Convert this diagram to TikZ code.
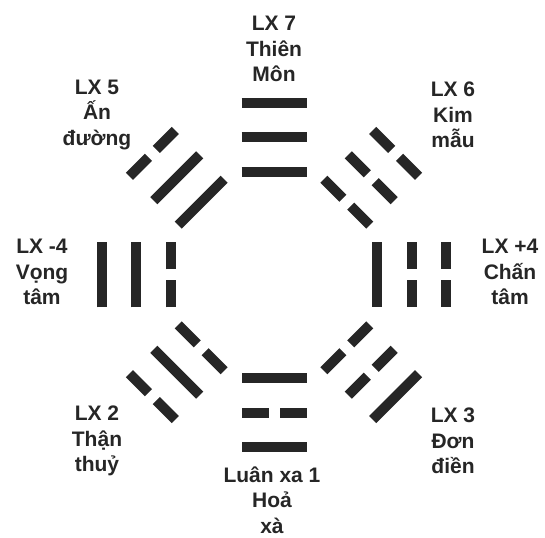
\documentclass[tikz,border=0pt]{standalone}
\usepackage{fontspec}
\setmainfont{Liberation Sans}
\usetikzlibrary{positioning}

\tikzset{
  bar/.style={line width=10pt, draw=black!85},
  lbl/.style={align=center, inner sep=0pt, text=black!85,
    font=\bfseries\fontsize{21}{25.5}\selectfont}
}

\begin{document}
\begin{tikzpicture}[x=1pt,y=1pt]
\useasboundingbox (-274,-262) rectangle (271,275);
\coordinate (o) at (0,0);
% trigrams: direction / inner / middle / outer line (1 solid, 0 broken)
\foreach \ang/\a/\b/\c in {90/1/1/1, 45/0/0/0, 0/1/0/0, -45/0/0/1, -90/1/0/1, -135/0/1/0, 180/0/1/1, 135/1/1/0}{
  \begin{scope}[shift={(o)}, rotate=\ang-90]
    \foreach \r/\s in {103/\a, 137.5/\b, 172/\c}{
      \ifnum\s=1
        \draw[bar] (-32.5,\r) -- (32.5,\r);
      \else
        \draw[bar] (-32.5,\r) -- (-5.5,\r);
        \draw[bar] (5.5,\r) -- (32.5,\r);
      \fi
    }
  \end{scope}
}
\node[lbl] (lx7) at (0,226) {LX 7\\Thiên\\Môn};
\node[lbl] (lx5) at (-177,160) {LX 5\\Ấn\\đường};
\node[lbl] (lx6) at (179,160) {LX 6\\Kim\\mẫu};
\node[lbl] (lxm4) at (-232,3) {LX -4\\Vọng\\tâm};
\node[lbl] (lxp4) at (236,3) {LX +4\\Chấn\\tâm};
\node[lbl] (lx2) at (-177,-166) {LX 2\\Thận\\thuỷ};
\node[lbl] (lx3) at (179,-166) {LX 3\\Đơn\\điền};
\node[lbl] (lx1) at (-2,-225) {Luân xa 1\\Hoả\\xà};
\end{tikzpicture}
\end{document}
